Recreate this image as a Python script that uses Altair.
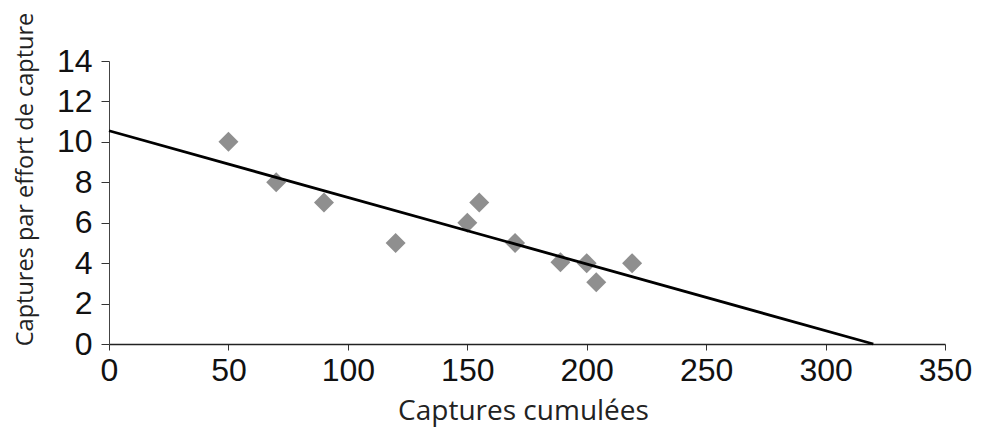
import altair as alt
import pandas as pd

# Observed points
captures_cumulees = [50, 70, 90, 120, 150, 155, 170, 189, 200, 204, 219]
captures_par_effort = [10, 8, 7, 5, 6, 7, 5, 4.05, 4, 3.05, 4]

# Fitted line endpoints
line_x = [0, 320]
line_y = [10.55, 0]

x_ticks = [0, 50, 100, 150, 200, 250, 300, 350]
y_ticks = [0, 2, 4, 6, 8, 10, 12, 14]

pts = pd.DataFrame({"x": captures_cumulees, "y": captures_par_effort})
ln = pd.DataFrame({"x": line_x, "y": line_y})

xscale = alt.Scale(domain=[0, 350], nice=False, zero=False)
yscale = alt.Scale(domain=[0, 14], nice=False, zero=False)

xaxis = alt.Axis(
    title="Captures cumulées",
    values=x_ticks,
    grid=False,
    labelFlush=False,
    labelFont="Liberation Sans",
    labelFontSize=32,
    labelColor="#111111",
    labelPadding=5,
    tickSize=6,
    tickColor="#333333",
    domainColor="#222222",
    domainWidth=1.5,
    titleFont="Open Sans",
    titleFontSize=28,
    titleFontWeight="normal",
    titleColor="#222222",
    titleX=414,
    titleY=75,
    titleAnchor="middle",
    titleAlign="center",
    titleBaseline="alphabetic",
)
yaxis = alt.Axis(
    title="Captures par effort de capture",
    values=y_ticks,
    grid=False,
    labelFlush=False,
    labelFont="Liberation Sans",
    labelFontSize=32,
    labelColor="#111111",
    labelPadding=9,
    tickSize=8,
    tickColor="#333333",
    domainColor="#444444",
    domainWidth=1,
    titleFont="Open Sans",
    titleFontSize=23.5,
    titleFontWeight="normal",
    titleColor="#222222",
    titleAngle=-90,
    titleX=-84,
    titleY=118,
    titleAlign="center",
    titleBaseline="middle",
)

points = alt.Chart(pts).mark_point(
    shape="diamond", filled=True, size=400, color="#8f8f8f", opacity=1
).encode(
    x=alt.X("x:Q", scale=xscale, axis=xaxis),
    y=alt.Y("y:Q", scale=yscale, axis=yaxis),
)

line = alt.Chart(ln).mark_line(color="#000000", strokeWidth=2.8).encode(
    x=alt.X("x:Q", scale=xscale),
    y=alt.Y("y:Q", scale=yscale),
)

chart = (
    alt.layer(points, line)
    .properties(
        width=836,
        height=283,
        autosize=alt.AutoSizeParams(type="none"),
        padding={"left": 101, "top": 53, "right": 30, "bottom": 83},
        background="white",
    )
    .configure_view(stroke=None)
)

chart.save("out.html", embed_options={"renderer": "svg", "actions": False})
